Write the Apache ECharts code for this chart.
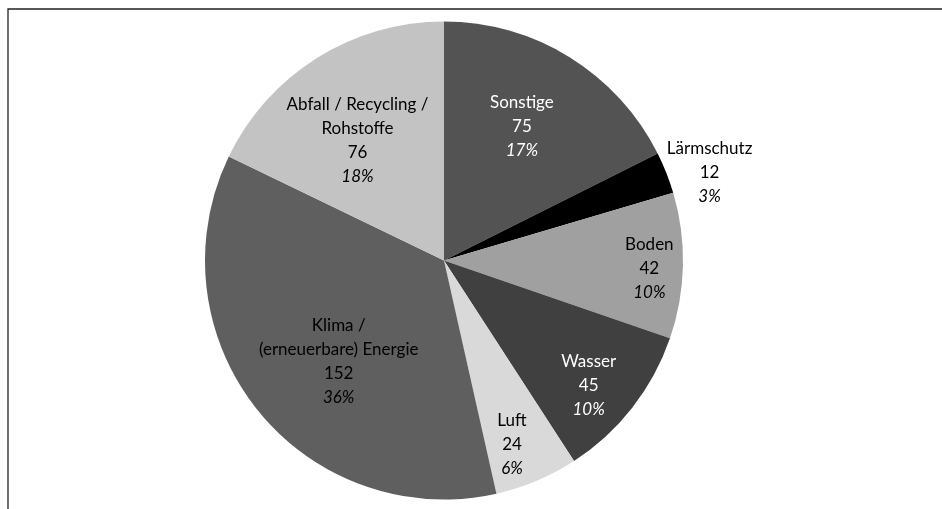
<!DOCTYPE html>
<html>
<head>
<meta charset="utf-8">
<script src="https://cdn.jsdelivr.net/npm/echarts@6/dist/echarts.min.js"></script>
<style>
html,body{margin:0;padding:0;background:#fff;}
#chart{width:942px;height:509px;}
</style>
</head>
<body>
<div id="chart"></div>
<script>
// Data
const categories = ['Sonstige', 'Lärmschutz', 'Boden', 'Wasser', 'Luft', 'Klima /\n(erneuerbare) Energie', 'Abfall / Recycling /\nRohstoffe'];
const values = [75, 12, 42, 45, 24, 152, 76];
const percentLabels = ['17%', '3%', '10%', '10%', '6%', '36%', '18%'];

// Styles
const colors = ['#535353', '#000000', '#a0a0a0', '#404040', '#d9d9d9', '#5f5f5f', '#c3c3c3'];
const textColors = ['#ffffff', '#000000', '#000000', '#ffffff', '#000000', '#000000', '#000000'];
const labelRadius = [0.65, 1.17, 0.86, 0.80, 0.82, 0.61, 0.62];
const labelAngleShift = [-1.6, 3.3, 1.1, 2.8, 2.5, -5.3, -3.6];

const chart = echarts.init(document.getElementById('chart'), null, {renderer: 'canvas'});
const CX = 444, CY = 260.5, R = 239;

const total = values.reduce((a, b) => a + b, 0);
const mids = [];
let acc = 0;
values.forEach(v => { mids.push((acc + v / 2) / total * 360); acc += v; });

const FONT = 'Lato';
const FS = 17;

const data = categories.map((name, i) => ({
  name: name,
  value: values[i],
  itemStyle: {color: colors[i]},
  label: {
    rich: {
      n: {color: textColors[i], fontSize: FS, lineHeight: 24, fontFamily: FONT},
      p: {color: textColors[i], fontSize: FS, lineHeight: 24, fontStyle: 'italic', fontFamily: FONT}
    }
  }
}));

chart.setOption({
  animation: false,
  backgroundColor: '#ffffff',
  graphic: [{
    type: 'rect',
    shape: {x: 8, y: 9, width: 960, height: 540},
    style: {fill: 'none', stroke: '#222222', lineWidth: 1.3},
    silent: true
  }],
  series: [{
    type: 'pie',
    center: [CX, CY],
    radius: [0, R],
    startAngle: 90,
    clockwise: true,
    avoidLabelOverlap: false,
    data: data,
    label: {
      show: true,
      position: 'inside',
      align: 'center',
      verticalAlign: 'middle',
      fontFamily: FONT,
      fontSize: FS,
      formatter: function (p) {
        const lines = p.name.split('\n').map(s => '{n|' + s + '}');
        lines.push('{n|' + p.value + '}');
        lines.push('{p|' + percentLabels[p.dataIndex] + '}');
        return lines.join('\n');
      }
    },
    labelLine: {show: false},
    labelLayout: function (params) {
      const i = params.dataIndex;
      const a = (mids[i] + labelAngleShift[i]) * Math.PI / 180;
      const d = labelRadius[i] * R;
      return {
        x: CX + d * Math.sin(a),
        y: CY - d * Math.cos(a),
        align: 'center',
        verticalAlign: 'middle'
      };
    },
    emphasis: {disabled: true}
  }]
});
</script>
</body>
</html>
